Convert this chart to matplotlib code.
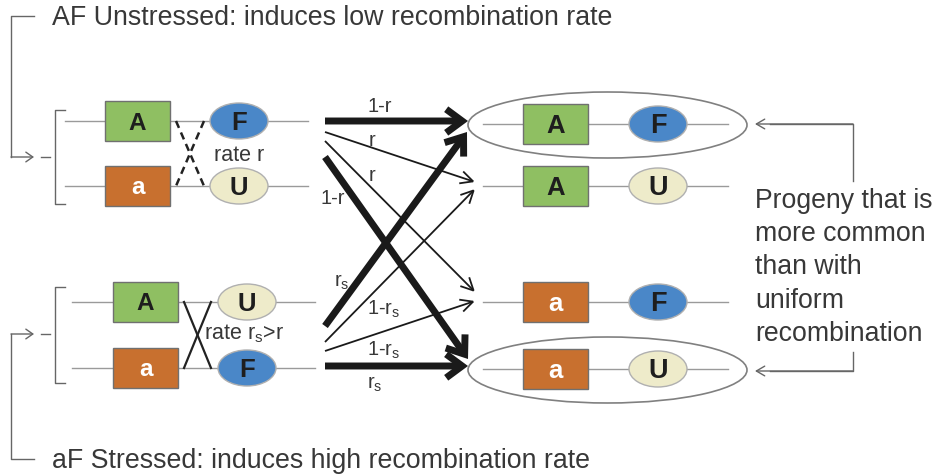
import matplotlib
matplotlib.use('Agg')
import matplotlib.pyplot as plt
from matplotlib.patches import Rectangle, Ellipse, FancyArrowPatch

plt.rcParams['font.family'] = ['Liberation Sans', 'DejaVu Sans']
plt.rcParams['mathtext.fontset'] = 'custom'
plt.rcParams['mathtext.rm'] = 'Liberation Sans'

# ---------------- data ----------------
title_top = "AF Unstressed: induces low recombination rate"
title_bottom = "aF Stressed: induces high recombination rate"
parents_unstressed = [("A", "F"), ("a", "U")]
parents_stressed = [("A", "U"), ("a", "F")]
progeny = [("A", "F"), ("A", "U"), ("a", "F"), ("a", "U")]
progeny_highlight = [True, False, False, True]
rate_unstressed = "rate r"
rate_stressed = "rate r$_\\mathregular{s}$>r"
arrow_labels = ["1-r", "r", "r", "1-r",
                "r$_\\mathregular{s}$", "1-r$_\\mathregular{s}$",
                "1-r$_\\mathregular{s}$", "r$_\\mathregular{s}$"]
arrow_thick = [True, False, False, True, True, False, False, True]
note = "Progeny that is\nmore common\nthan with\nuniform\nrecombination"

# ---------------- layout (pixel space) ----------------
W, H = 935, 477
fig = plt.figure(figsize=(W / 100, H / 100), dpi=100)
ax = fig.add_axes([0, 0, 1, 1])
ax.set_xlim(0, W)
ax.set_ylim(H, 0)
ax.axis('off')

TXT = '#383838'
LINE = '#9a9a9a'
COL = {"A": '#8fbf62', "a": '#c8702f', "F": '#4a87c8', "U": '#eeebca'}
LETTER_COL = {"A": '#1e1e1e', "a": 'white', "F": '#1e1e1e', "U": '#1e1e1e'}


def chromosome(y, x0, x1, bx, ex, gene1, gene2, fs):
    ax.plot([x0, x1], [y, y], color=LINE, lw=1.0, zorder=1)
    ax.add_patch(Rectangle((bx, y - 20), 65, 40, facecolor=COL[gene1],
                           edgecolor='#707070', lw=1.0, zorder=2))
    ax.text(bx + 32.5, y + 1, gene1, ha='center', va='center', fontsize=fs,
            fontweight='bold', color=LETTER_COL[gene1], zorder=3)
    ax.add_patch(Ellipse((ex, y), 58, 36, facecolor=COL[gene2],
                         edgecolor='#b0b0b0', lw=1.0, zorder=2))
    ax.text(ex, y + 1, gene2, ha='center', va='center', fontsize=fs + 1,
            fontweight='bold', color=LETTER_COL[gene2], zorder=3)


# parents
top_rows = [122, 187]
bot_rows = [303, 369]
for y, (g1, g2) in zip(top_rows, parents_unstressed):
    chromosome(y, 65, 308, 105, 239, g1, g2, 17.5)
for y, (g1, g2) in zip(bot_rows, parents_stressed):
    chromosome(y, 72, 315, 113, 247, g1, g2, 17.5)

# crossover marks
ax.plot([176, 204], [122, 187], color='#222222', lw=1.8, ls=(0, (3, 2)), zorder=1.5)
ax.plot([204, 176], [122, 187], color='#222222', lw=1.8, ls=(0, (3, 2)), zorder=1.5)
ax.plot([184, 211], [303, 369], color='#222222', lw=1.6, zorder=1.5)
ax.plot([211, 184], [303, 369], color='#222222', lw=1.6, zorder=1.5)
ax.text(214, 156, rate_unstressed, ha='left', va='center', fontsize=15.5, color=TXT)
ax.text(204, 334, rate_stressed, ha='left', va='center', fontsize=15.5, color=TXT)

# brackets on left
GR = '#666666'
for (yt, yb, ym) in [(111, 205, 158), (288, 384, 335)]:
    ax.plot([65, 55, 55, 65], [yt, yt, yb, yb], color=GR, lw=1.0)
    ax.plot([41, 50], [ym, ym], color=GR, lw=1.0)
# connectors from titles
ax.plot([34, 11, 11], [17, 17, 158], color=GR, lw=1.0)
ax.add_patch(FancyArrowPatch((11, 158), (34, 158), arrowstyle='->,head_length=0.5,head_width=0.35',
                             mutation_scale=10, color=GR, lw=1.0, shrinkA=0, shrinkB=0))
ax.plot([34, 11, 11], [460, 460, 335], color=GR, lw=1.0)
ax.add_patch(FancyArrowPatch((11, 335), (34, 335), arrowstyle='->,head_length=0.5,head_width=0.35',
                             mutation_scale=10, color=GR, lw=1.0, shrinkA=0, shrinkB=0))
ax.text(52, 18, title_top, ha='left', va='center', fontsize=19.3, color=TXT)
ax.text(52, 461, title_bottom, ha='left', va='center', fontsize=19.3, color=TXT)

# progeny
prog_rows = [125, 187, 303, 370]
for y, (g1, g2), hl in zip(prog_rows, progeny, progeny_highlight):
    chromosome(y, 483, 728, 523, 658, g1, g2, 18.5)
    if hl:
        ax.add_patch(Ellipse((607.5, y + 1), 279, 66, facecolor='none',
                             edgecolor='#808080', lw=1.2, zorder=4))

# recombination arrows
starts = [(325, 122), (325, 133), (325, 142), (325, 158),
          (325, 327), (325, 343), (325, 352), (325, 367)]
ends = [(468, 122), (475, 183), (475, 293), (468, 360),
        (467, 133), (475, 190), (475, 302), (468, 367)]
label_pos = [(380, 106), (372, 141), (372, 176), (333, 199),
             (342, 282), (384, 309), (384, 350), (375, 384)]
for s, e, thick, lab, lp in zip(starts, ends, arrow_thick, arrow_labels, label_pos):
    if thick:
        st = '->,head_length=1.15,head_width=0.85'
        lw = 5.0
        z = 6
    else:
        st = '->,head_length=0.9,head_width=0.45'
        lw = 1.3
        z = 5
    ax.add_patch(FancyArrowPatch(s, e, arrowstyle=st, mutation_scale=10,
                                 color='#1a1a1a', lw=lw, shrinkA=0, shrinkB=0,
                                 zorder=z, capstyle='butt', joinstyle='miter'))
    ax.text(lp[0], lp[1], lab, ha='center', va='center', fontsize=14.5,
            color=TXT, zorder=7)

# right annotation
ax.plot([853, 853, 770], [182, 125, 125], color=GR, lw=1.0)
ax.add_patch(FancyArrowPatch((853, 125), (755, 125), arrowstyle='->,head_length=0.6,head_width=0.35',
                             mutation_scale=10, color=GR, lw=1.0, shrinkA=0, shrinkB=0))
ax.plot([853, 853, 770], [353, 372, 372], color=GR, lw=1.0)
ax.add_patch(FancyArrowPatch((853, 372), (755, 372), arrowstyle='->,head_length=0.6,head_width=0.35',
                             mutation_scale=10, color=GR, lw=1.0, shrinkA=0, shrinkB=0))
ax.text(755, 188, note, ha='left', va='top', fontsize=19.2, color=TXT,
        linespacing=1.36)

fig.savefig('out.png', dpi=100, facecolor='white')
